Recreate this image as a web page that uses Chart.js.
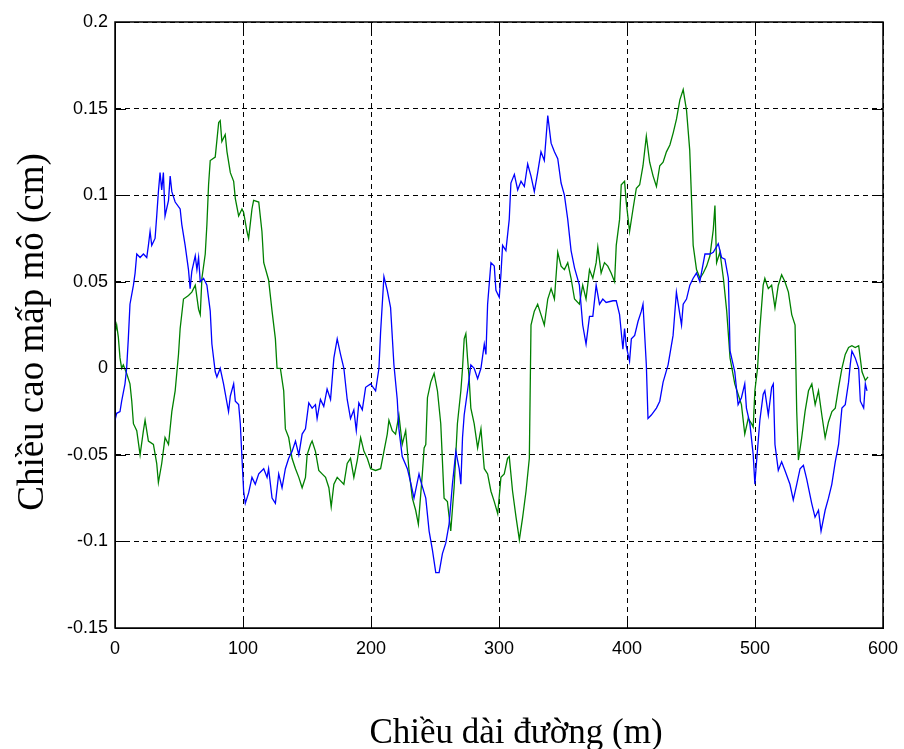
<!DOCTYPE html>
<html lang="vi">
<head>
<meta charset="utf-8">
<title>Chiều cao mấp mô</title>
<script src="https://cdn.jsdelivr.net/npm/chart.js@4.4.1/dist/chart.umd.min.js"></script>
<style>
  html, body { margin: 0; padding: 0; background: #fff; }
  #grafico { display: block; }
</style>
</head>
<body>
<canvas id="grafico" width="904" height="749"></canvas>
<script>
// duong xanh duong (blue)
const distXanh = [0,1.3,3.9,5.2,7.8,9.1,10.4,11.7,14.4,15.7,17,19.6,22.2,24.8,26.1,27.4,28.7,31.3,32.6,33.9,35.2,36.5,37.8,39.1,41.8,43.1,44.4,47,50.9,52.2,54.8,57.4,58.7,60,62.7,64,65.3,66.6,69.2,71.8,74.4,75.7,78.3,79.6,82.2,84.8,88.7,90.1,92.7,94,96.6,97.9,99.2,100.5,101.8,104.4,107,109.6,112.3,116.2,118.8,
  120,122.7,125.3,127.9,130.5,133.1,135.7,138.3,141,143.6,146.2,148.8,151.4,154,156.6,157.9,160.5,163.1,165.7,168.4,171,173.6,176.2,178.8,181.4,184,186.6,188.5,190.5,193.2,195.8,199.7,203.6,206.2,207.5,210.1,212.7,215.3,217.9,220.5,221.8,224.4,228.4,231,233.6,237.5,
  238.8,242.8,245.4,248,250.6,253.2,255.8,258.4,261,263.6,266.3,268.9,270.2,271.5,272.8,275.4,278,280.6,283.3,285.9,288.5,289.8,291.1,293.7,296.3,297.6,300.2,301.5,302.8,305.4,308,309.3,312,314.6,317.2,319.8,322.4,325,327.6,330.2,332.8,335.4,338.1,340.7,343.3,345.9,348.5,351.1,353.7,356.3,359,
  362.8,365.4,368,370.7,373.3,375.9,378.5,381.1,383.7,389,391.6,394.2,396.8,398.1,399.4,402,403.4,406,408.6,411.2,412.5,415.1,416.4,419,423,425.6,428.2,432.1,436,438.6,441.3,442.6,443.9,446.5,449.1,451.7,454.3,456.9,460.9,464.8,467.4,471.3,473.9,476.5,479.2,480.5,
  484.2,486.8,489.4,492,493.3,496,498.6,499.9,501.2,503.8,506.4,507.7,510.4,513,514.3,515.6,518.2,520.8,523.4,527.3,529.9,532.6,535.2,537.8,540.4,544.3,546.9,549.6,551.6,554.8,557.4,560,562.7,565.3,567.9,570.5,573.1,574.4,575.7,578.3,581,582.3,584.9,586.2,587.5];
const caoXanh = [-0.030,-0.026,-0.025,-0.019,-0.009,0.000,0.017,0.037,0.048,0.055,0.066,0.064,0.066,0.064,0.071,0.079,0.071,0.075,0.088,0.102,0.113,0.103,0.113,0.088,0.097,0.111,0.102,0.096,0.092,0.083,0.071,0.057,0.046,0.056,0.065,0.057,0.064,0.050,0.052,0.048,0.033,0.014,-0.002,-0.005,0.000,-0.009,-0.025,-0.016,-0.009,-0.019,-0.021,-0.032,-0.052,-0.071,-0.078,-0.072,-0.063,-0.067,-0.061,-0.058,-0.063,
  -0.058,-0.075,-0.078,-0.061,-0.069,-0.058,-0.052,-0.048,-0.042,-0.050,-0.038,-0.035,-0.020,-0.023,-0.021,-0.029,-0.018,-0.022,-0.012,-0.018,0.006,0.017,0.008,0.000,-0.018,-0.029,-0.024,-0.036,-0.020,-0.024,-0.011,-0.009,-0.013,0.000,0.021,0.053,0.045,0.035,0.002,-0.018,-0.035,-0.051,-0.058,-0.066,-0.075,-0.061,
  -0.065,-0.075,-0.094,-0.105,-0.118,-0.118,-0.107,-0.101,-0.090,-0.067,-0.048,-0.058,-0.067,-0.040,-0.027,-0.013,0.002,0.000,-0.006,0.000,0.014,0.008,0.037,0.061,0.059,0.045,0.041,0.054,0.071,0.068,0.086,0.107,0.112,0.103,0.108,0.105,0.118,0.111,0.102,0.113,0.125,0.120,0.146,0.130,0.125,0.121,0.107,0.100,0.086,0.068,0.058,
  0.048,0.025,0.014,0.030,0.030,0.048,0.037,0.040,0.038,0.039,0.039,0.031,0.011,0.023,0.013,0.004,0.017,0.019,0.027,0.033,0.037,0.002,-0.029,-0.027,-0.023,-0.019,-0.008,0.002,0.019,0.044,0.031,0.025,0.037,0.040,0.048,0.052,0.055,0.050,0.066,0.066,0.067,0.072,0.064,0.063,0.052,0.010,
  -0.002,-0.021,-0.017,-0.009,-0.023,-0.032,-0.050,-0.067,-0.054,-0.030,-0.015,-0.013,-0.027,-0.011,-0.009,-0.044,-0.059,-0.054,-0.059,-0.067,-0.076,-0.067,-0.058,-0.056,-0.064,-0.078,-0.086,-0.082,-0.094,-0.082,-0.075,-0.067,-0.054,-0.044,-0.023,-0.021,-0.008,0.002,0.010,0.006,0.000,-0.019,-0.023,-0.009,-0.013];

// duong xanh la (green)
const distLuc = [0,1.3,2.6,3.9,5.2,6.5,9.1,11.7,13.1,14.4,17,19.6,22.2,23.5,26.1,30,32.6,33.9,36.5,39.1,41.8,44.4,47,49.6,50.9,53.5,57.4,60,62.7,65.3,66.6,67.9,70.5,71.8,73.1,74.4,78.3,81,82.2,83.5,86.1,87.5,90.1,92.7,94,96.6,99.2,100.5,103.1,104.4,107,108.3,112.3,114.8,116.2,
  120,122.7,125.3,126.6,129.2,131.8,133.1,135.7,138.3,141,143.6,146.2,148.8,150.1,152.7,154,156.6,159.2,161.8,164.5,167.1,168.9,171,173.6,176.2,178.8,181.4,184,186.6,189.3,191.9,194.5,197.1,199.7,203.6,207.5,210.1,212.7,214,216.6,219.2,221.8,224.4,227.1,229.7,232.3,234.9,237,
  240.1,241.5,242.8,244.1,246.7,249.3,251.9,254.5,257.1,259.7,262.3,264.9,267.5,270.2,271.5,272.8,274.1,275.4,276.7,278,280.6,283.3,285.9,288.5,291.1,293.7,296.3,299,301.5,304.1,306.7,308,310.6,313.3,315.9,318.5,321.1,323.7,325,327.6,330.2,332.8,335.4,338.1,340.7,343.3,345.9,348.5,351.1,353.7,356.3,359,
  362.8,365.4,368,370.7,373.3,375.9,377.2,379.8,382.4,385,387.6,390.3,391.6,394.2,395.5,398.1,399.4,402,404.7,407.3,409.9,412.5,415.1,417.7,420.4,423,425.6,428.2,430.8,433.5,436.1,438.7,441.3,443.9,446.5,449,450.3,451.7,454.3,457,459.6,462.2,464.8,467.4,468.7,470,472.6,475.3,477.9,480.5,
  484.2,486.8,489.4,492,494.7,497.3,498.6,499.9,502,503.8,506.4,507.7,510.4,513,515.6,518.2,520.8,523.4,526.1,528.7,531.3,532.6,533.9,536.5,539.1,541.8,544.4,547,549.6,552.2,554.8,557.4,560.1,562.7,565.3,567.9,570.5,573.1,575.7,578.3,581,583.6,586.2,588.3];
const caoLuc = [0.020,0.025,0.018,0.006,0.000,0.002,-0.003,-0.009,-0.019,-0.032,-0.036,-0.050,-0.036,-0.030,-0.042,-0.044,-0.055,-0.066,-0.055,-0.040,-0.044,-0.025,-0.013,0.008,0.023,0.040,0.042,0.044,0.048,0.034,0.031,0.052,0.066,0.083,0.106,0.120,0.122,0.142,0.143,0.131,0.135,0.125,0.113,0.108,0.098,0.088,0.092,0.090,0.079,0.075,0.092,0.097,0.096,0.079,0.061,
  0.051,0.033,0.017,0.000,0.000,-0.013,-0.035,-0.040,-0.052,-0.058,-0.063,-0.069,-0.063,-0.050,-0.044,-0.042,-0.048,-0.059,-0.061,-0.063,-0.069,-0.080,-0.067,-0.063,-0.065,-0.067,-0.055,-0.052,-0.063,-0.053,-0.040,-0.048,-0.052,-0.058,-0.059,-0.058,-0.048,-0.038,-0.030,-0.036,-0.038,-0.027,-0.044,-0.036,-0.059,-0.075,-0.082,-0.090,
  -0.061,-0.046,-0.044,-0.017,-0.008,-0.003,-0.013,-0.032,-0.075,-0.077,-0.094,-0.069,-0.032,-0.013,0.000,0.017,0.020,0.006,-0.006,-0.023,-0.032,-0.046,-0.035,-0.058,-0.061,-0.071,-0.077,-0.084,-0.063,-0.061,-0.052,-0.051,-0.071,-0.086,-0.099,-0.086,-0.071,-0.052,0.025,0.033,0.037,0.031,0.025,0.040,0.046,0.040,0.067,0.059,0.057,0.061,0.052,0.040,
  0.037,0.048,0.040,0.057,0.052,0.061,0.070,0.055,0.061,0.059,0.055,0.050,0.071,0.086,0.106,0.108,0.096,0.079,0.092,0.104,0.106,0.117,0.134,0.119,0.111,0.105,0.117,0.119,0.125,0.129,0.136,0.144,0.155,0.161,0.149,0.126,0.100,0.071,0.057,0.052,0.055,0.059,0.065,0.080,0.094,0.061,0.067,0.052,0.033,0.006,
  -0.009,-0.015,-0.021,-0.038,-0.029,-0.032,-0.034,-0.013,0.000,0.023,0.048,0.052,0.046,0.048,0.035,0.048,0.054,0.050,0.044,0.031,0.025,-0.025,-0.053,-0.040,-0.025,-0.013,-0.009,-0.021,-0.013,-0.027,-0.040,-0.031,-0.025,-0.023,-0.011,0.000,0.008,0.012,0.013,0.012,0.013,-0.002,-0.007,-0.005];

const tenTrucX = "Chiều dài đường (m)";
const tenTrucY = "Chiều cao mấp mô (cm)";

function ghepDiem(xs, ys) {
  return xs.map((x, i) => ({ x: x, y: ys[i] }));
}

// khung kieu matlab: vien lien + vach chia huong vao trong
const khungMatlab = {
  id: "khungMatlab",
  afterDatasetsDraw(chart) {
    const { ctx, chartArea: a, scales } = chart;
    const dai = 11;
    ctx.save();
    ctx.strokeStyle = "#000";
    ctx.lineWidth = 1;
    ctx.beginPath();
    scales.x.ticks.forEach(t => {
      const px = Math.round(scales.x.getPixelForValue(t.value)) + 0.5;
      ctx.moveTo(px, a.bottom); ctx.lineTo(px, a.bottom - dai);
      ctx.moveTo(px, a.top); ctx.lineTo(px, a.top + dai);
    });
    scales.y.ticks.forEach(t => {
      const py = Math.round(scales.y.getPixelForValue(t.value)) + 0.5;
      ctx.moveTo(a.left, py); ctx.lineTo(a.left + dai, py);
      ctx.moveTo(a.right, py); ctx.lineTo(a.right - dai, py);
    });
    ctx.stroke();
    ctx.lineWidth = 1.5;
    ctx.strokeRect(a.left, a.top, a.right - a.left, a.bottom - a.top);
    ctx.restore();
  }
};

// ten truc (chu co chan), dat lech tam nhu hinh goc
const tenTruc = {
  id: "tenTruc",
  afterDraw(chart) {
    const ctx = chart.ctx;
    ctx.save();
    ctx.fillStyle = "#000";
    ctx.textAlign = "center";
    ctx.textBaseline = "alphabetic";
    ctx.font = "35px 'Liberation Serif', 'Times New Roman', serif";
    ctx.fillText(tenTrucX, 516, 743);
    ctx.translate(43, 332);
    ctx.rotate(-Math.PI / 2);
    ctx.font = "37px 'Liberation Serif', 'Times New Roman', serif";
    ctx.fillText(tenTrucY, 0, 0);
    ctx.restore();
  }
};

Chart.defaults.font.family = "'Liberation Sans', Arial, sans-serif";
Chart.defaults.color = "#000";

const grafico = new Chart(document.getElementById("grafico"), {
  type: "line",
  data: {
    datasets: [
      {
        label: "xanh",
        data: ghepDiem(distXanh, caoXanh),
        borderColor: "#0000ff",
        borderWidth: 1.3,
        pointRadius: 0,
        tension: 0,
        fill: false
      },
      {
        label: "luc",
        data: ghepDiem(distLuc, caoLuc),
        borderColor: "#008000",
        borderWidth: 1.3,
        pointRadius: 0,
        tension: 0,
        fill: false
      }
    ]
  },
  options: {
    responsive: false,
    animation: false,
    layout: { padding: { top: 22, right: 21, left: 0, bottom: 0 } },
    plugins: { legend: { display: false }, tooltip: { enabled: false } },
    scales: {
      x: {
        type: "linear",
        min: 0,
        max: 600,
        ticks: { stepSize: 100, padding: 10, font: { size: 18 } },
        grid: { color: "#000", lineWidth: 1, drawTicks: false },
        border: { display: true, color: "#000", dash: [5, 4] },
        afterFit(s) {
          s.height = 121;
          s.paddingLeft = 0;
          s.paddingRight = 0;
        }
      },
      y: {
        type: "linear",
        min: -0.15,
        max: 0.2,
        ticks: {
          stepSize: 0.05,
          padding: 7,
          font: { size: 18 },
          callback: v => String(Math.round(v * 100) / 100)
        },
        grid: { color: "#000", lineWidth: 1, drawTicks: false },
        border: { display: true, color: "#000", dash: [5, 4] },
        afterFit(s) {
          s.width = 115;
          s.paddingTop = 0;
          s.paddingBottom = 0;
        }
      }
    }
  },
  plugins: [khungMatlab, tenTruc]
});
</script>
</body>
</html>
